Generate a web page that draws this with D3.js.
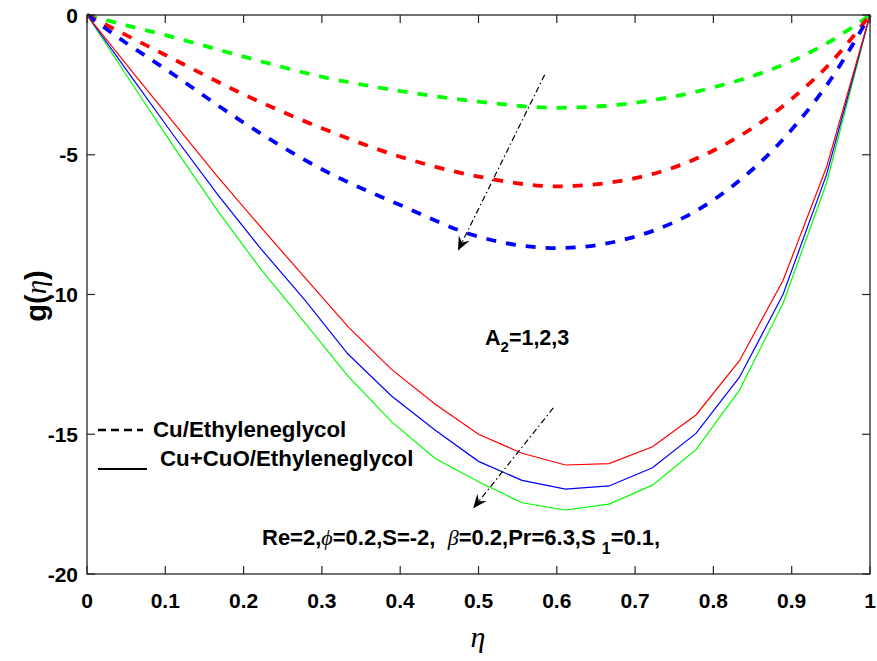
<!DOCTYPE html>
<html>
<head>
<meta charset="utf-8">
<script src="https://cdn.jsdelivr.net/npm/d3@7"></script>
<style>
  html, body { margin: 0; padding: 0; background: #fff; }
  svg { display: block; }
  text { font-family: "Liberation Sans", Arial, sans-serif; font-weight: bold; fill: #000; }
  .serif { font-family: "Liberation Serif", "Times New Roman", serif; font-style: italic; font-weight: normal; }
</style>
</head>
<body>
<svg id="chart" width="877" height="661"></svg>
<script>
// ---------------- data ----------------
const xTicks = [0, 0.1, 0.2, 0.3, 0.4, 0.5, 0.6, 0.7, 0.8, 0.9, 1];
const xTickLabels = ["0", "0.1", "0.2", "0.3", "0.4", "0.5", "0.6", "0.7", "0.8", "0.9", "1"];
const yTicks = [-20, -15, -10, -5, 0];
const yTickLabels = ["-20", "-15", "-10", "-5", "0"];

// Cu/Ethyleneglycol (dashed), A2 = 1, 2, 3
const etaDashed = [0, 0.05, 0.1, 0.2, 0.3, 0.4, 0.5, 0.6, 0.7, 0.8, 0.9, 0.95, 1];
const dashedA1 = [0, -0.37, -0.72, -1.49, -2.21, -2.72, -3.1, -3.32, -3.14, -2.59, -1.65, -0.93, 0];
const dashedA2 = [0, -0.72, -1.43, -2.84, -4.05, -5.07, -5.78, -6.13, -5.84, -4.85, -3.0, -1.7, 0];
const dashedA3 = [0, -1.0, -1.93, -3.85, -5.52, -6.8, -7.93, -8.34, -7.93, -6.62, -4.1, -2.3, 0];

// Cu+CuO/Ethyleneglycol (solid), A2 = 1, 2, 3
const etaSolid = [0, 0.0556, 0.1111, 0.1667, 0.2222, 0.2778, 0.3333, 0.3889, 0.4444, 0.5,
                  0.5556, 0.6111, 0.6667, 0.7222, 0.7778, 0.8333, 0.8889, 0.9444, 1];
const solidA1 = [0, -1.95, -3.87, -5.78, -7.6, -9.38, -11.15, -12.68, -13.92, -15.0,
                 -15.68, -16.1, -16.05, -15.45, -14.31, -12.37, -9.5, -5.45, 0];
const solidA2 = [0, -2.17, -4.33, -6.42, -8.37, -10.18, -12.13, -13.63, -14.85, -15.97,
                 -16.65, -16.96, -16.85, -16.2, -14.97, -12.96, -10.0, -5.72, 0];
const solidA3 = [0, -2.38, -4.73, -7.0, -9.1, -11.0, -12.92, -14.55, -15.86, -16.7,
                 -17.45, -17.71, -17.5, -16.82, -15.55, -13.42, -10.32, -6.02, 0];

const seriesColors = ["#00ff00", "#ff0000", "#0000ff"];
const dashedSeries = [dashedA1, dashedA2, dashedA3];
const solidSeries = [solidA3, solidA2, solidA1];
const solidColors = ["#00ff00", "#0000ff", "#ff0000"];

// arrows, in data coordinates [eta, g]
const arrowUpper = [[0.5845, -2.14], [0.4738, -8.43]];
const arrowLower = [[0.5955, -14.06], [0.4933, -17.65]];

// ---------------- layout ----------------
const svg = d3.select("#chart");
const L = 87, R = 870, T = 15, B = 574;
const x = d3.scaleLinear().domain([0, 1]).range([L, R]);
const y = d3.scaleLinear().domain([-20, 0]).range([B, T]);

const plot = svg.append("g");
svg.append("clipPath").attr("id", "clip")
  .append("rect").attr("x", L).attr("y", T - 3).attr("width", R - L + 3).attr("height", B - T + 3);

// dashed curves
const dashedLine = d3.line().x((d, i) => x(etaDashed[i])).y(d => y(d)).curve(d3.curveMonotoneX);
dashedSeries.forEach((s, k) => {
  plot.append("path").attr("d", dashedLine(s))
    .attr("fill", "none").attr("stroke", seriesColors[k])
    .attr("stroke-width", 3.8).attr("stroke-dasharray", "10,10")
    .attr("clip-path", "url(#clip)");
});

// solid curves
const solidLine = d3.line().x((d, i) => x(etaSolid[i])).y(d => y(d));
solidSeries.forEach((s, k) => {
  plot.append("path").attr("d", solidLine(s))
    .attr("fill", "none").attr("stroke", solidColors[k])
    .attr("stroke-width", 1.2);
});

// ---------------- axes (box with inward ticks) ----------------
const axisColor = "#262626";
const tickLen = 8;
const ax = svg.append("g");
ax.append("rect").attr("x", L).attr("y", T).attr("width", R - L).attr("height", B - T)
  .attr("fill", "none").attr("stroke", axisColor).attr("stroke-width", 1.3);

xTicks.forEach((t, i) => {
  const px = x(t);
  ax.append("line").attr("x1", px).attr("x2", px).attr("y1", B).attr("y2", B - tickLen)
    .attr("stroke", axisColor).attr("stroke-width", 1.2);
  ax.append("line").attr("x1", px).attr("x2", px).attr("y1", T).attr("y2", T + tickLen)
    .attr("stroke", axisColor).attr("stroke-width", 1.2);
  ax.append("text").attr("x", px).attr("y", 608).attr("text-anchor", "middle")
    .attr("font-size", 21).text(xTickLabels[i]);
});
yTicks.forEach((t, i) => {
  const py = y(t);
  ax.append("line").attr("x1", L).attr("x2", L + tickLen).attr("y1", py).attr("y2", py)
    .attr("stroke", axisColor).attr("stroke-width", 1.2);
  ax.append("line").attr("x1", R).attr("x2", R - tickLen).attr("y1", py).attr("y2", py)
    .attr("stroke", axisColor).attr("stroke-width", 1.2);
  ax.append("text").attr("x", 78).attr("y", py + 7.5).attr("text-anchor", "end")
    .attr("font-size", 21).text(yTickLabels[i]);
});

// axis labels
const yl = svg.append("text").attr("transform", "translate(46,296) rotate(-90)")
  .attr("text-anchor", "middle").attr("font-size", 29);
yl.append("tspan").text("g(");
yl.append("tspan").attr("class", "serif").text("η");
yl.append("tspan").text(")");

svg.append("text").attr("class", "serif").attr("x", 478).attr("y", 647)
  .attr("text-anchor", "middle").attr("font-size", 30).text("η");

// ---------------- legend ----------------
svg.append("line").attr("x1", 98).attr("x2", 143).attr("y1", 430).attr("y2", 430)
  .attr("stroke", "#000").attr("stroke-width", 2.4).attr("stroke-dasharray", "8,5");
svg.append("text").attr("x", 153).attr("y", 437).attr("font-size", 22.3).text("Cu/Ethyleneglycol");
svg.append("line").attr("x1", 98).attr("x2", 147).attr("y1", 469).attr("y2", 469)
  .attr("stroke", "#000").attr("stroke-width", 2);
svg.append("text").attr("x", 160).attr("y", 466).attr("font-size", 22.3).text("Cu+CuO/Ethyleneglycol");

// ---------------- annotations ----------------
const a2 = svg.append("text").attr("x", 485).attr("y", 345).attr("font-size", 21.5);
a2.append("tspan").text("A");
a2.append("tspan").attr("font-size", 15).attr("dy", 7).text("2");
a2.append("tspan").attr("dy", -7).text("=1,2,3");

const pt = svg.append("text").attr("x", 262).attr("y", 545).attr("font-size", 22);
pt.append("tspan").text("Re=2,");
pt.append("tspan").attr("class", "serif").text("ϕ");
pt.append("tspan").text("=0.2,S=-2,\u00a0\u00a0");
pt.append("tspan").attr("class", "serif").text("β");
pt.append("tspan").text("=0.2,Pr=6.3,S\u00a0");
pt.append("tspan").attr("font-size", 16).attr("dy", 9).text("1");
pt.append("tspan").attr("dy", -9).text("=0.1,");

function drawArrow(pts) {
  const p0 = [x(pts[0][0]), y(pts[0][1])];
  const p1 = [x(pts[1][0]), y(pts[1][1])];
  svg.append("line").attr("x1", p0[0]).attr("y1", p0[1]).attr("x2", p1[0]).attr("y2", p1[1])
    .attr("stroke", "#000").attr("stroke-width", 1.2).attr("stroke-dasharray", "6,3,1.5,3");
  const ang = Math.atan2(p1[1] - p0[1], p1[0] - p0[0]);
  const len = 14, half = 6, notch = 9;
  const ux = Math.cos(ang), uy = Math.sin(ang), nx = -uy, ny = ux;
  const bx = p1[0] - ux * len, by = p1[1] - uy * len;
  const mx = p1[0] - ux * notch, my = p1[1] - uy * notch;
  const d = `M${p1[0]},${p1[1]} L${bx + nx * half},${by + ny * half} L${mx},${my} L${bx - nx * half},${by - ny * half} Z`;
  svg.append("path").attr("d", d).attr("fill", "#000");
}
drawArrow(arrowUpper);
drawArrow(arrowLower);
</script>
</body>
</html>
